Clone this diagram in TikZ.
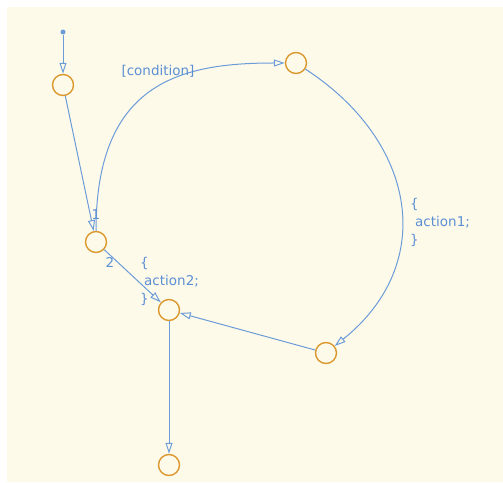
\documentclass[tikz,border=0pt]{standalone}
\usepackage{fontspec}
\setsansfont{DejaVu Sans}
\usepackage{tikz}
\usetikzlibrary{positioning,arrows.meta,calc}
\definecolor{paper}  {HTML}{FEFAEA}
\definecolor{wire}   {HTML}{6C9CD8}
\definecolor{ring}   {HTML}{DA982E}
\definecolor{lbltext}{HTML}{5B8FD4}
\tikzset{
  % --- nodes
  st/.style   = {circle, draw=ring, line width=1.4pt, fill=paper,
                 minimum size=21pt, inner sep=0pt},
  dflt/.style = {circle, fill=wire, minimum size=5pt, inner sep=0pt},
  lbl/.style  = {font=\sffamily\fontsize{13.5}{18}\selectfont, text=lbltext,
                 align=left, inner sep=0pt},
  % --- edges
  tr/.style   = {draw=wire, line width=1pt,
                 -{Triangle[open,length=11pt,width=7pt]}},
}
\begin{document}
\begin{tikzpicture}[x=1pt,y=1pt]
  \useasboundingbox (0,0) rectangle (503,482);
  \fill[white] (0,0) rectangle (503,482);
  \fill[paper] (7,0) rectangle (503,475);
  % states
  \node[dflt] (init) at (63,450) {};
  \node[st] (a) at (63,397) {};
  \node[st] (b) at (96,240) {};
  \node[st] (c) at (296,419) {};
  \node[st] (d) at (169,172) {};
  \node[st] (e) at (326,129) {};
  \node[st] (f) at (169,17) {};
  % transitions
  \draw[tr] (init) -- (a);
  \draw[tr] (a) -- (b);
  \draw[tr] (b) .. controls +(90:160) and +(180:115) .. (c);
  \draw[tr] (c) .. controls +(120,-78) and +(112,90) .. (e);
  \draw[tr] (b) -- (d);
  \draw[tr] (e) -- (d);
  \draw[tr] (d) -- (f);
  % labels
  \node[lbl] (cond) at (158,411) {[condition]};
  \node[lbl] (one) at (96,267) {1};
  \node[lbl] (two) at (110,220) {2};
  \node[lbl, anchor=west] (act1) at (410,260) {\{\\\hspace*{5pt}action1;\\\}};
  \node[lbl, anchor=west] (act2) at (140,201) {\{\\\hspace*{4pt}action2;\\\}};
\end{tikzpicture}
\end{document}
